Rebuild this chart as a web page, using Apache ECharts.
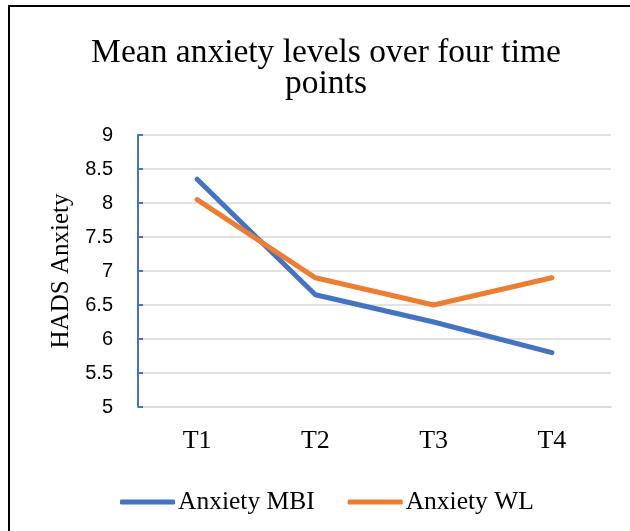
<!DOCTYPE html>
<html><head><meta charset="utf-8">
<script src="https://cdn.jsdelivr.net/npm/echarts@6/dist/echarts.min.js"></script>
<style>html,body{margin:0;padding:0;background:#fff}#c{width:630px;height:531px}</style>
</head><body><div id="c"></div>
<script>
const categories = ['T1','T2','T3','T4'];
const anxietyMBI = [8.35, 6.65, 6.25, 5.8];
const anxietyWL = [8.05, 6.9, 6.5, 6.9];
const seriesNames = ['Anxiety MBI','Anxiety WL'];
const titleText = 'Mean anxiety levels over four time\npoints';
const yName = 'HADS Anxiety';

const serif = '"Liberation Serif", "DejaVu Serif", serif';
const chart = echarts.init(document.getElementById('c'));
chart.setOption({
  animation: false,
  graphic: [{type:'rect', shape:{x:9, y:6, width:700, height:700}, style:{fill:'none', stroke:'#000', lineWidth:2}}],
  title: {text: titleText, left: 326, textAlign: 'center', top: 38, itemGap: 0, padding: 0,
    textStyle: {fontFamily: serif, fontSize: 33.5, fontWeight: 'normal', color: '#000', lineHeight: 31}},
  legend: {top: 484, left: 115, itemWidth: 55, itemHeight: 5, itemGap: 33,
    textStyle: {fontFamily: serif, fontSize: 25.5, color: '#000', padding:[0,0,0,-2]},
    icon: 'roundRect',
    data: seriesNames},
  grid: {left: 138, right: 19, top: 135, bottom: 124},
  xAxis: {type: 'category', data: categories, boundaryGap: true,
    axisLine: {show: true, lineStyle: {color: '#d9d9d9', width: 1.5}},
    axisTick: {show: false},
    axisLabel: {fontFamily: serif, fontSize: 26, color: '#000', margin: 21}},
  yAxis: {type: 'value', min: 5, max: 9, interval: 0.5, name: yName, nameLocation: 'middle', nameGap: 61,
    nameTextStyle: {fontFamily: serif, fontSize: 25, color: '#000'},
    axisLine: {show: true, lineStyle: {color: '#4472C4', width: 2}},
    axisTick: {show: true, inside: true, length: 5, lineStyle: {color: '#4472C4', width: 2}},
    axisLabel: {fontFamily: '"Liberation Sans", sans-serif', fontSize: 20, color: '#000', margin: 25},
    splitLine: {lineStyle: {color: '#d9d9d9', width: 1.5}}},
  series: [
    {name: seriesNames[0], type: 'line', data: anxietyMBI, symbol: 'none',
      lineStyle: {color: '#4472C4', width: 5, cap: 'round', join: 'round'}, itemStyle: {color: '#4472C4'}},
    {name: seriesNames[1], type: 'line', data: anxietyWL, symbol: 'none',
      lineStyle: {color: '#ED7D31', width: 5, cap: 'round', join: 'round'}, itemStyle: {color: '#ED7D31'}}
  ]
});
</script></body></html>
